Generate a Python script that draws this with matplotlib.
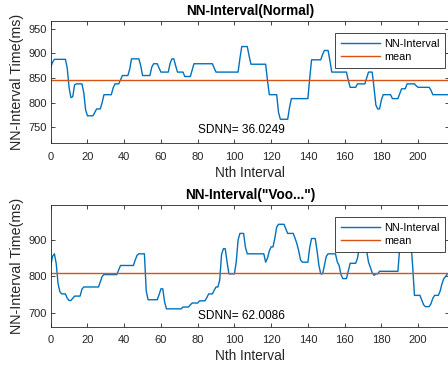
import numpy as np
import matplotlib
matplotlib.use("Agg")
import matplotlib.pyplot as plt

# NN intervals (ms), one value per beat
nn_normal = [
    872, 882, 888, 888, 888, 888, 888, 888, 888, 870,
    830, 810, 812, 836, 838, 838, 838, 838, 820, 785,
    773, 773, 773, 773, 780, 787, 787, 787, 800, 816,
    816, 816, 816, 816, 830, 838, 838, 838, 846, 855,
    855, 855, 855, 868, 889, 889, 889, 889, 889, 875,
    855, 855, 855, 855, 855, 872, 879, 879, 879, 870,
    862, 862, 862, 862, 862, 880, 889, 889, 875, 862,
    862, 862, 862, 853, 853, 853, 853, 866, 879, 879,
    879, 879, 879, 879, 879, 879, 879, 879, 879, 870,
    862, 862, 862, 862, 862, 862, 862, 862, 862, 862,
    862, 862, 862, 890, 914, 914, 914, 914, 895, 878,
    878, 878, 878, 878, 878, 878, 878, 878, 845, 816,
    816, 816, 816, 816, 780, 766, 766, 766, 766, 766,
    790, 808, 808, 808, 808, 808, 808, 808, 808, 808,
    808, 850, 887, 887, 887, 887, 887, 887, 898, 906,
    906, 906, 885, 862, 862, 862, 862, 862, 862, 862,
    862, 862, 845, 831, 831, 831, 831, 838, 838, 838,
    838, 838, 850, 862, 862, 862, 830, 795, 787, 787,
    805, 816, 816, 816, 816, 816, 808, 808, 808, 808,
    818, 828, 828, 828, 838, 838, 838, 838, 838, 834,
    831, 831, 831, 831, 831, 831, 831, 825, 816, 816,
    816, 816, 816, 816, 816, 816, 816,
]

nn_voo = [
    830, 855, 862, 835, 780, 758, 752, 752, 752, 740,
    734, 734, 740, 746, 746, 746, 746, 765, 771, 771,
    771, 771, 771, 771, 771, 771, 771, 785, 800, 805,
    805, 805, 805, 805, 805, 805, 805, 818, 830, 830,
    830, 830, 830, 830, 830, 830, 845, 858, 862, 862,
    862, 862, 760, 736, 736, 736, 736, 736, 736, 750,
    766, 766, 730, 711, 711, 711, 711, 711, 711, 711,
    711, 711, 716, 716, 716, 716, 722, 727, 727, 727,
    727, 733, 733, 733, 733, 742, 752, 752, 752, 762,
    771, 771, 790, 860, 876, 876, 840, 807, 807, 807,
    807, 840, 900, 918, 918, 918, 880, 862, 862, 862,
    862, 862, 862, 862, 862, 862, 862, 839, 850, 870,
    881, 881, 905, 935, 943, 943, 943, 943, 930, 918,
    918, 918, 918, 905, 890, 870, 845, 839, 839, 839,
    839, 880, 904, 904, 904, 870, 830, 807, 807, 830,
    855, 862, 862, 862, 862, 862, 840, 830, 805, 794,
    794, 794, 815, 836, 836, 836, 836, 850, 880, 900,
    900, 900, 870, 839, 825, 810, 803, 807, 807, 814,
    814, 814, 814, 814, 814, 814, 814, 814, 814, 814,
    880, 900, 900, 900, 900, 900, 900, 830, 748, 748,
    748, 748, 735, 722, 717, 717, 717, 725, 740, 748,
    748, 748, 760, 780, 794, 800, 807,
]

titles = ["NN-Interval(Normal)", 'NN-Interval("Voo...")']
mean_values = [846, 810]
sdnn_labels = ["SDNN= 36.0249", "SDNN= 62.0086"]
sdnn_y = [745, 691]
yticks_list = [[750, 800, 850, 900, 950], [700, 800, 900]]
ylims = [(717, 966), (662, 996)]
xticks = list(range(0, 220, 20))

BLUE = "#0072BD"
ORANGE = "#D95319"
DARK = "#262626"

plt.rcParams["font.family"] = ["Liberation Sans", "DejaVu Sans"]

fig = plt.figure(figsize=(4.48, 3.70), dpi=100)
ax_top = fig.add_axes([0.1132, 0.6127, 0.8898, 0.3305])
ax_bot = fig.add_axes([0.1132, 0.1170, 0.8898, 0.3290])

series = [nn_normal, nn_voo]
for k, ax in enumerate([ax_top, ax_bot]):
    y = np.array(series[k])
    x = np.arange(len(y))
    ax.plot(x, y, color=BLUE, lw=1.0, label="NN-Interval")
    ax.axhline(mean_values[k], color=ORANGE, lw=1.0, label="mean")

    ax.set_xlim(0, 217)
    ax.set_ylim(*ylims[k])
    ax.set_xticks(xticks)
    ax.set_yticks(yticks_list[k])
    ax.tick_params(direction="in", length=3, width=0.6, colors=DARK,
                   labelsize=8, top=True, right=True)
    ax.tick_params(axis="x", pad=6)
    ax.tick_params(axis="y", pad=3)
    for sp in ax.spines.values():
        sp.set_color(DARK)
        sp.set_linewidth(0.6)

    ax.set_title(titles[k], fontsize=9.8, fontweight="bold", color="black", pad=4)
    ax.set_xlabel("Nth Interval", fontsize=9.8, color=DARK, labelpad=3)
    ax.set_ylabel("NN-Interval Time(ms)", fontsize=10.3, color=DARK, labelpad=3)

    ax.text(80, sdnn_y[k], sdnn_labels[k],
            fontsize=8.6, color="black", va="center", ha="left")

    leg = ax.legend(loc="upper right", bbox_to_anchor=(0.990, 0.902),
                    borderaxespad=0, fontsize=7.8, frameon=True,
                    fancybox=False, framealpha=1, edgecolor=DARK,
                    handlelength=3.6, handletextpad=0.4, labelspacing=0.3,
                    borderpad=0.55)
    leg.get_frame().set_linewidth(0.6)

fig.savefig("out.png", dpi=100)
